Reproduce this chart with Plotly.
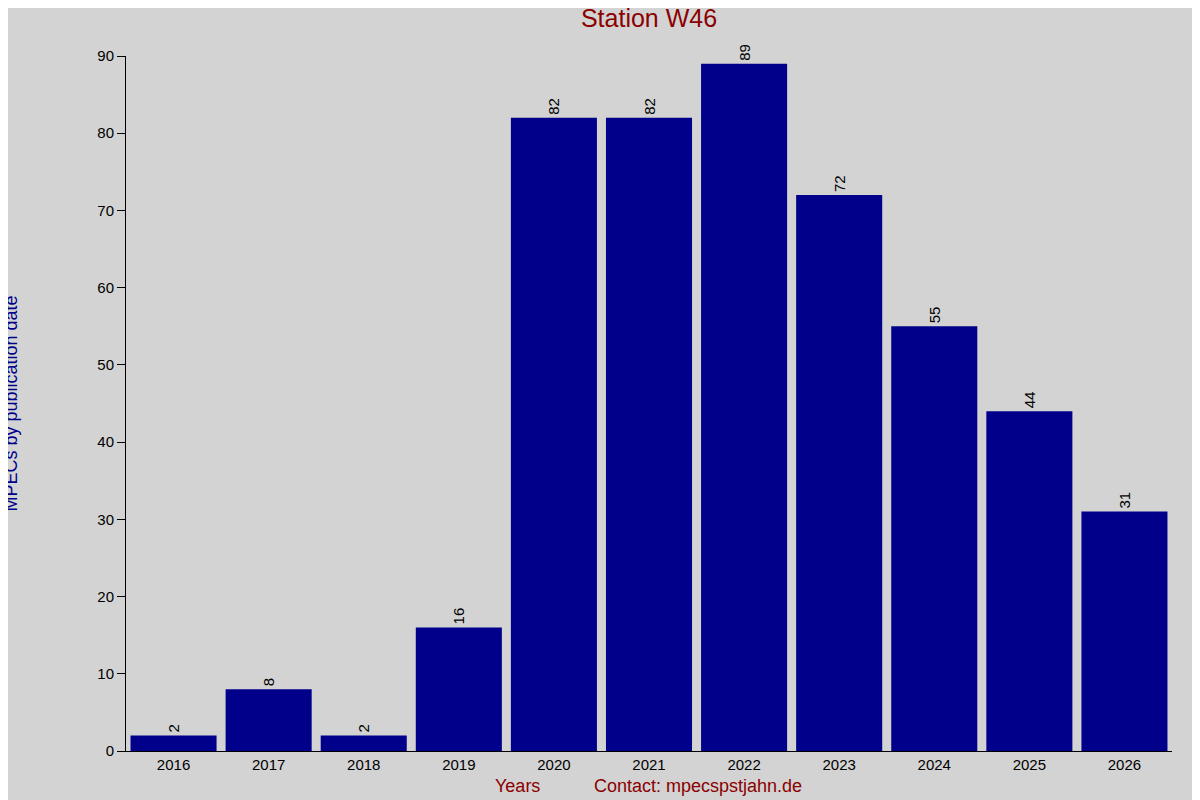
import plotly.graph_objects as go

years = ["2016","2017","2018","2019","2020","2021","2022","2023","2024","2025","2026"]
counts = [2, 8, 2, 16, 82, 82, 89, 72, 55, 44, 31]
yticks = [0,10,20,30,40,50,60,70,80,90]

fig = go.Figure(go.Bar(
    x=years, y=counts, marker=dict(color="#00008B", line=dict(width=0)),
    text=[str(c) for c in counts], textposition="outside", textangle=-90,
    textfont=dict(color="black", size=15, family="Liberation Sans"),
    cliponaxis=False,
))
fig.update_layout(
    width=1192, height=792,
    paper_bgcolor="#D3D3D3", plot_bgcolor="#D3D3D3",
    margin=dict(l=118, r=28, t=48, b=49),
    bargap=0.095, showlegend=False,
    font=dict(family="Liberation Sans", color="black", size=15),
    title=dict(text="Station W46", x=641/1192, xanchor="center", y=1-10/792, yanchor="middle",
               font=dict(color="#8B0000", size=25)),
)
fig.update_xaxes(type="category", range=[-0.5, 10.5], showgrid=False, showline=True,
                 linecolor="black", linewidth=1, ticks="", tickfont=dict(size=15))
fig.update_yaxes(range=[0, 90], tickvals=yticks, showgrid=False, showline=True,
                 linecolor="black", linewidth=1, ticks="outside", ticklen=8,
                 tickcolor="black", zeroline=False, tickfont=dict(size=15))
fig.add_annotation(text="Years", xref="paper", yref="paper",
                   x=(517-126)/1046, y=-35/695, xanchor="center", yanchor="middle",
                   showarrow=False, font=dict(color="#8B0000", size=18))
fig.add_annotation(text="MPECs by publication date", xref="paper", yref="paper",
                   x=(2-118)/1046, y=0.5, xanchor="center", textangle=-90, showarrow=False,
                   font=dict(color="#00008B", size=18))
fig.add_annotation(text="Contact: mpecspstjahn.de", xref="paper", yref="paper",
                   x=(698-126)/1046, y=-35/695, xanchor="center", yanchor="middle",
                   showarrow=False, font=dict(color="#8B0000", size=18))
fig.write_html("out.html")
